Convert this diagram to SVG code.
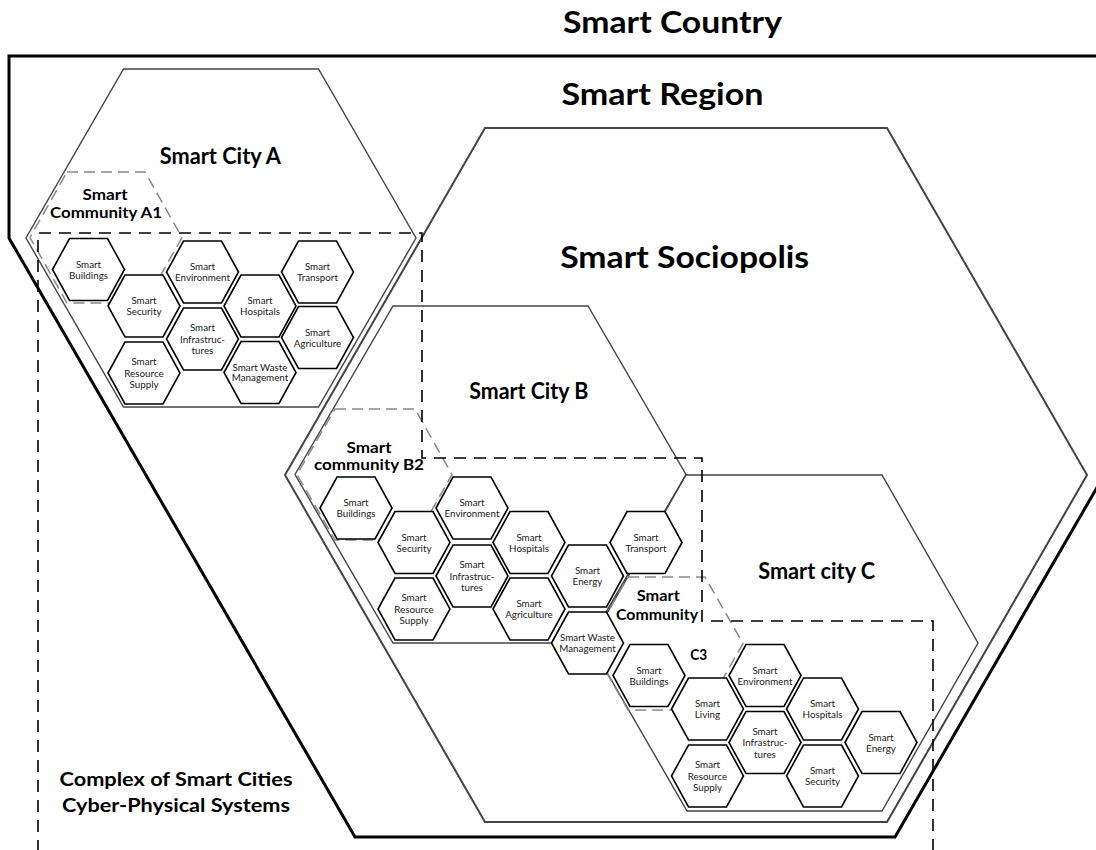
<svg xmlns="http://www.w3.org/2000/svg" xmlns:xlink="http://www.w3.org/1999/xlink" width="1096" height="850" viewBox="0 0 1096 850">
<style>
.country{fill:none;stroke:#000;stroke-width:3;stroke-linejoin:miter}
.big{fill:none;stroke:#444;stroke-width:2}
.city{fill:none;stroke:#444;stroke-width:1.4}
.comm{fill:none;stroke:#888;stroke-width:1.5;stroke-dasharray:11 6}
.cps{fill:none;stroke:#000;stroke-width:1.6;stroke-dasharray:12 8}
.hx{fill:#fff;stroke:#000;stroke-width:1.6}
.t{font-family:Lato,"Liberation Sans",sans-serif;font-weight:bold;fill:#000;text-anchor:middle}
.s{font-family:Lato,"Liberation Sans",sans-serif;font-size:9.8px;fill:#1a1a1a;text-anchor:middle}
</style>
<defs>
<polygon id="hex" points="-36,0 -19,-31 19,-31 36,0 19,31 -19,31"/>
</defs>
<rect width="1096" height="850" fill="#fff"/>

<g id="smart-country">
<path class="country" d="M1100,56 L9,56 L9,238 L355,837 L895,837 L1099,484"/>
<text class="t" x="672.5" y="33" font-size="31" textLength="219" lengthAdjust="spacingAndGlyphs">Smart Country</text>
</g>

<g id="smart-region">
<polygon class="big" points="485,128 887,128 1087,475 887,822 485,822 285,475"/>
<text class="t" x="662.5" y="105" font-size="31" textLength="202" lengthAdjust="spacingAndGlyphs">Smart Region</text>
<text class="t" x="684.7" y="268" font-size="31" textLength="249" lengthAdjust="spacingAndGlyphs">Smart Sociopolis</text>
</g>

<g id="smart-city-a">
<polygon class="city" points="123.5,69 318.5,69 416,238 318.5,407 123.5,407 26,238"/>
<text class="t" x="220.3" y="164" font-size="22" textLength="121" lengthAdjust="spacingAndGlyphs">Smart City A</text>
</g>

<g id="smart-city-b">
<polygon class="city" points="393,306 588,306 686,474.5 588,643 393,643 295,474.5"/>
<text class="t" x="528.8" y="399" font-size="22" textLength="119" lengthAdjust="spacingAndGlyphs">Smart City B</text>
</g>

<g id="smart-city-c">
<polygon class="city" points="686,475 882,475 978,643 882,811 687,811 590,643"/>
<text class="t" x="816.7" y="579" font-size="22" textLength="117" lengthAdjust="spacingAndGlyphs">Smart city C</text>
</g>

<g id="community-a1">
<polygon class="comm" points="67,172 145,172 182,237.5 145,303 67,303 30,237.5"/>
</g>
<g id="community-b2">
<polygon class="comm" points="335,409 415,409 452,474.5 415,540 335,540 297,474.5"/>
</g>
<g id="community-c3">
<polygon class="comm" points="628,577 705,577 743,643.5 705,710 628,710 590,643.5"/>
</g>

<g id="cps-complex">
<path class="cps" d="M38,852 L38,233 L422,233 L422,458 L702,458 L702,621 L933,621 L933,852"/>
<text class="t" x="176" y="785.5" font-size="19.5" textLength="233" lengthAdjust="spacingAndGlyphs">Complex of Smart Cities</text>
<text class="t" x="176" y="812" font-size="19.5" textLength="228" lengthAdjust="spacingAndGlyphs">Cyber-Physical Systems</text>
</g>

<!-- City A services -->
<g id="a-buildings"><use href="#hex" class="hx" x="88.5" y="269.5"/><text class="s" x="88.5" y="267.5">Smart</text><text class="s" x="88.5" y="278.5">Buildings</text></g>
<g id="a-security"><use href="#hex" class="hx" x="144" y="306"/><text class="s" x="144" y="304">Smart</text><text class="s" x="144" y="315">Security</text></g>
<g id="a-environment"><use href="#hex" class="hx" x="202.5" y="272"/><text class="s" x="202.5" y="270">Smart</text><text class="s" x="202.5" y="281">Environment</text></g>
<g id="a-hospitals"><use href="#hex" class="hx" x="260" y="306"/><text class="s" x="260" y="304">Smart</text><text class="s" x="260" y="315">Hospitals</text></g>
<g id="a-transport"><use href="#hex" class="hx" x="317.5" y="272"/><text class="s" x="317.5" y="270">Smart</text><text class="s" x="317.5" y="281">Transport</text></g>
<g id="a-infrastructures"><use href="#hex" class="hx" x="202.5" y="339"/><text class="s" x="202.5" y="331">Smart</text><text class="s" x="202.5" y="342.5">Infrastruc-</text><text class="s" x="202.5" y="354">tures</text></g>
<g id="a-agriculture"><use href="#hex" class="hx" x="317.5" y="337.5"/><text class="s" x="317.5" y="335.5">Smart</text><text class="s" x="317.5" y="346.5">Agriculture</text></g>
<g id="a-resource-supply"><use href="#hex" class="hx" x="144" y="373"/><text class="s" x="144" y="365">Smart</text><text class="s" x="144" y="376.5">Resource</text><text class="s" x="144" y="388">Supply</text></g>
<g id="a-waste-management"><use href="#hex" class="hx" x="260" y="372.5"/><text class="s" x="260" y="370.5">Smart Waste</text><text class="s" x="260" y="381">Management</text></g>

<!-- City B services -->
<g id="b-buildings"><use href="#hex" class="hx" x="356" y="508"/><text class="s" x="356" y="506">Smart</text><text class="s" x="356" y="517">Buildings</text></g>
<g id="b-security"><use href="#hex" class="hx" x="414" y="542.5"/><text class="s" x="414" y="540.5">Smart</text><text class="s" x="414" y="551.5">Security</text></g>
<g id="b-environment"><use href="#hex" class="hx" x="472" y="508"/><text class="s" x="472" y="506">Smart</text><text class="s" x="472" y="517">Environment</text></g>
<g id="b-hospitals"><use href="#hex" class="hx" x="529" y="542.5"/><text class="s" x="529" y="540.5">Smart</text><text class="s" x="529" y="551.5">Hospitals</text></g>
<g id="b-transport"><use href="#hex" class="hx" x="646" y="542.5"/><text class="s" x="646" y="540.5">Smart</text><text class="s" x="646" y="551.5">Transport</text></g>
<g id="b-infrastructures"><use href="#hex" class="hx" x="472" y="576"/><text class="s" x="472" y="568">Smart</text><text class="s" x="472" y="579.5">Infrastruc-</text><text class="s" x="472" y="591">tures</text></g>
<g id="b-energy"><use href="#hex" class="hx" x="587.5" y="576"/><text class="s" x="587.5" y="574">Smart</text><text class="s" x="587.5" y="585">Energy</text></g>
<g id="b-resource-supply"><use href="#hex" class="hx" x="414" y="609"/><text class="s" x="414" y="601">Smart</text><text class="s" x="414" y="612.5">Resource</text><text class="s" x="414" y="624">Supply</text></g>
<g id="b-agriculture"><use href="#hex" class="hx" x="529" y="609"/><text class="s" x="529" y="607">Smart</text><text class="s" x="529" y="618">Agriculture</text></g>
<g id="b-waste-management"><use href="#hex" class="hx" x="587.5" y="643"/><text class="s" x="587.5" y="641">Smart Waste</text><text class="s" x="587.5" y="651.5">Management</text></g>

<!-- City C services -->
<g id="c-buildings"><use href="#hex" class="hx" x="649" y="675.5"/><text class="s" x="649" y="673.5">Smart</text><text class="s" x="649" y="684.5">Buildings</text></g>
<g id="c-living"><use href="#hex" class="hx" x="707.5" y="709"/><text class="s" x="707.5" y="707">Smart</text><text class="s" x="707.5" y="718">Living</text></g>
<g id="c-environment"><use href="#hex" class="hx" x="765" y="675.5"/><text class="s" x="765" y="673.5">Smart</text><text class="s" x="765" y="684.5">Environment</text></g>
<g id="c-hospitals"><use href="#hex" class="hx" x="822.5" y="709"/><text class="s" x="822.5" y="707">Smart</text><text class="s" x="822.5" y="718">Hospitals</text></g>
<g id="c-infrastructures"><use href="#hex" class="hx" x="765" y="742.5"/><text class="s" x="765" y="734.5">Smart</text><text class="s" x="765" y="746">Infrastruc-</text><text class="s" x="765" y="757.5">tures</text></g>
<g id="c-energy"><use href="#hex" class="hx" x="881" y="742.5"/><text class="s" x="881" y="740.5">Smart</text><text class="s" x="881" y="751.5">Energy</text></g>
<g id="c-resource-supply"><use href="#hex" class="hx" x="707.5" y="776"/><text class="s" x="707.5" y="768">Smart</text><text class="s" x="707.5" y="779.5">Resource</text><text class="s" x="707.5" y="791">Supply</text></g>
<g id="c-security"><use href="#hex" class="hx" x="822.5" y="776"/><text class="s" x="822.5" y="774">Smart</text><text class="s" x="822.5" y="785">Security</text></g>

<g id="community-labels">
<text class="t" x="105" y="200" font-size="15.5" textLength="45" lengthAdjust="spacingAndGlyphs">Smart</text>
<text class="t" x="106" y="217.5" font-size="15.5" textLength="112" lengthAdjust="spacingAndGlyphs">Community A1</text>
<text class="t" x="369" y="452.5" font-size="15.5" textLength="45" lengthAdjust="spacingAndGlyphs">Smart</text>
<text class="t" x="369" y="470" font-size="15.5" textLength="110" lengthAdjust="spacingAndGlyphs">community B2</text>
<text class="t" x="658.3" y="601" font-size="15.5" textLength="43" lengthAdjust="spacingAndGlyphs">Smart</text>
<text class="t" x="657" y="619.5" font-size="15.5" textLength="82" lengthAdjust="spacingAndGlyphs">Community</text>
<text class="t" x="698.7" y="660" font-size="15.5" textLength="17" lengthAdjust="spacingAndGlyphs">C3</text>
</g>
<g id="connectors"></g>
</svg>
